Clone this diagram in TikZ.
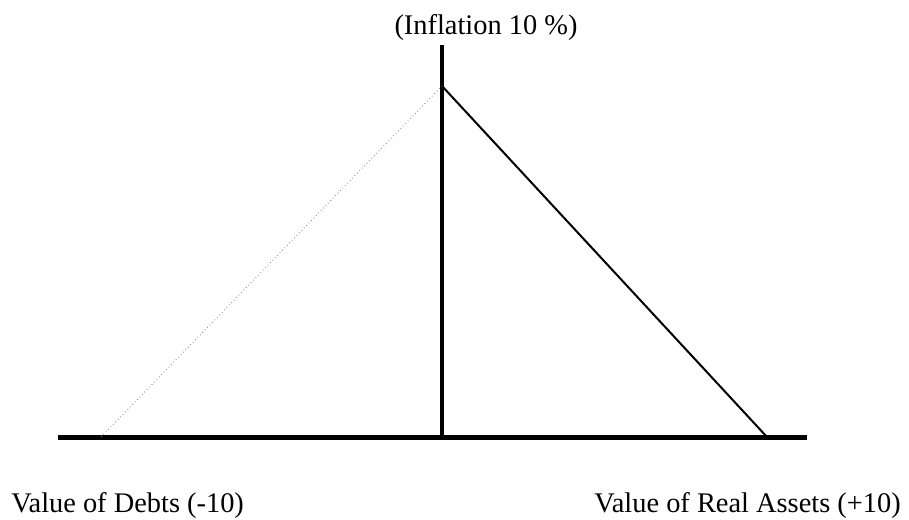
\documentclass[tikz,border=0pt]{standalone}
\usepackage{fontspec}
\setmainfont{Liberation Serif}
\usepackage{tikz}

\begin{document}
\begin{tikzpicture}[x=0.75pt, y=-0.75pt, font=\fontsize{21.3}{25}\selectfont]
\useasboundingbox (0,0) rectangle (909,520);

% Points on the axes
\coordinate (left) at (58,437);
\coordinate (right) at (807,437);
\coordinate (top) at (442,45);
\coordinate (base) at (442,437);
\coordinate (apex) at (442,86);
\coordinate (debts) at (101,437);
\coordinate (assets) at (767,437);

% Axes
\draw[line width=3.75pt] (left) -- (right);
\draw[line width=3pt] (base) -- (top);

% Value lines
\draw[line width=1.5pt] (apex) -- (assets);
\draw[dotted, gray, line width=0.6pt] (debts) -- (apex);

% Labels
\node[anchor=base, inner sep=0pt] (infl) at (486,35) {(Inflation 10 \%)};
\node[anchor=base west, inner sep=0pt] (dlab) at (11,512) {Value of Debts (-10)};
\node[anchor=base east, inner sep=0pt] (alab) at (901,512) {Value of Real Assets (+10)};
\end{tikzpicture}
\end{document}
